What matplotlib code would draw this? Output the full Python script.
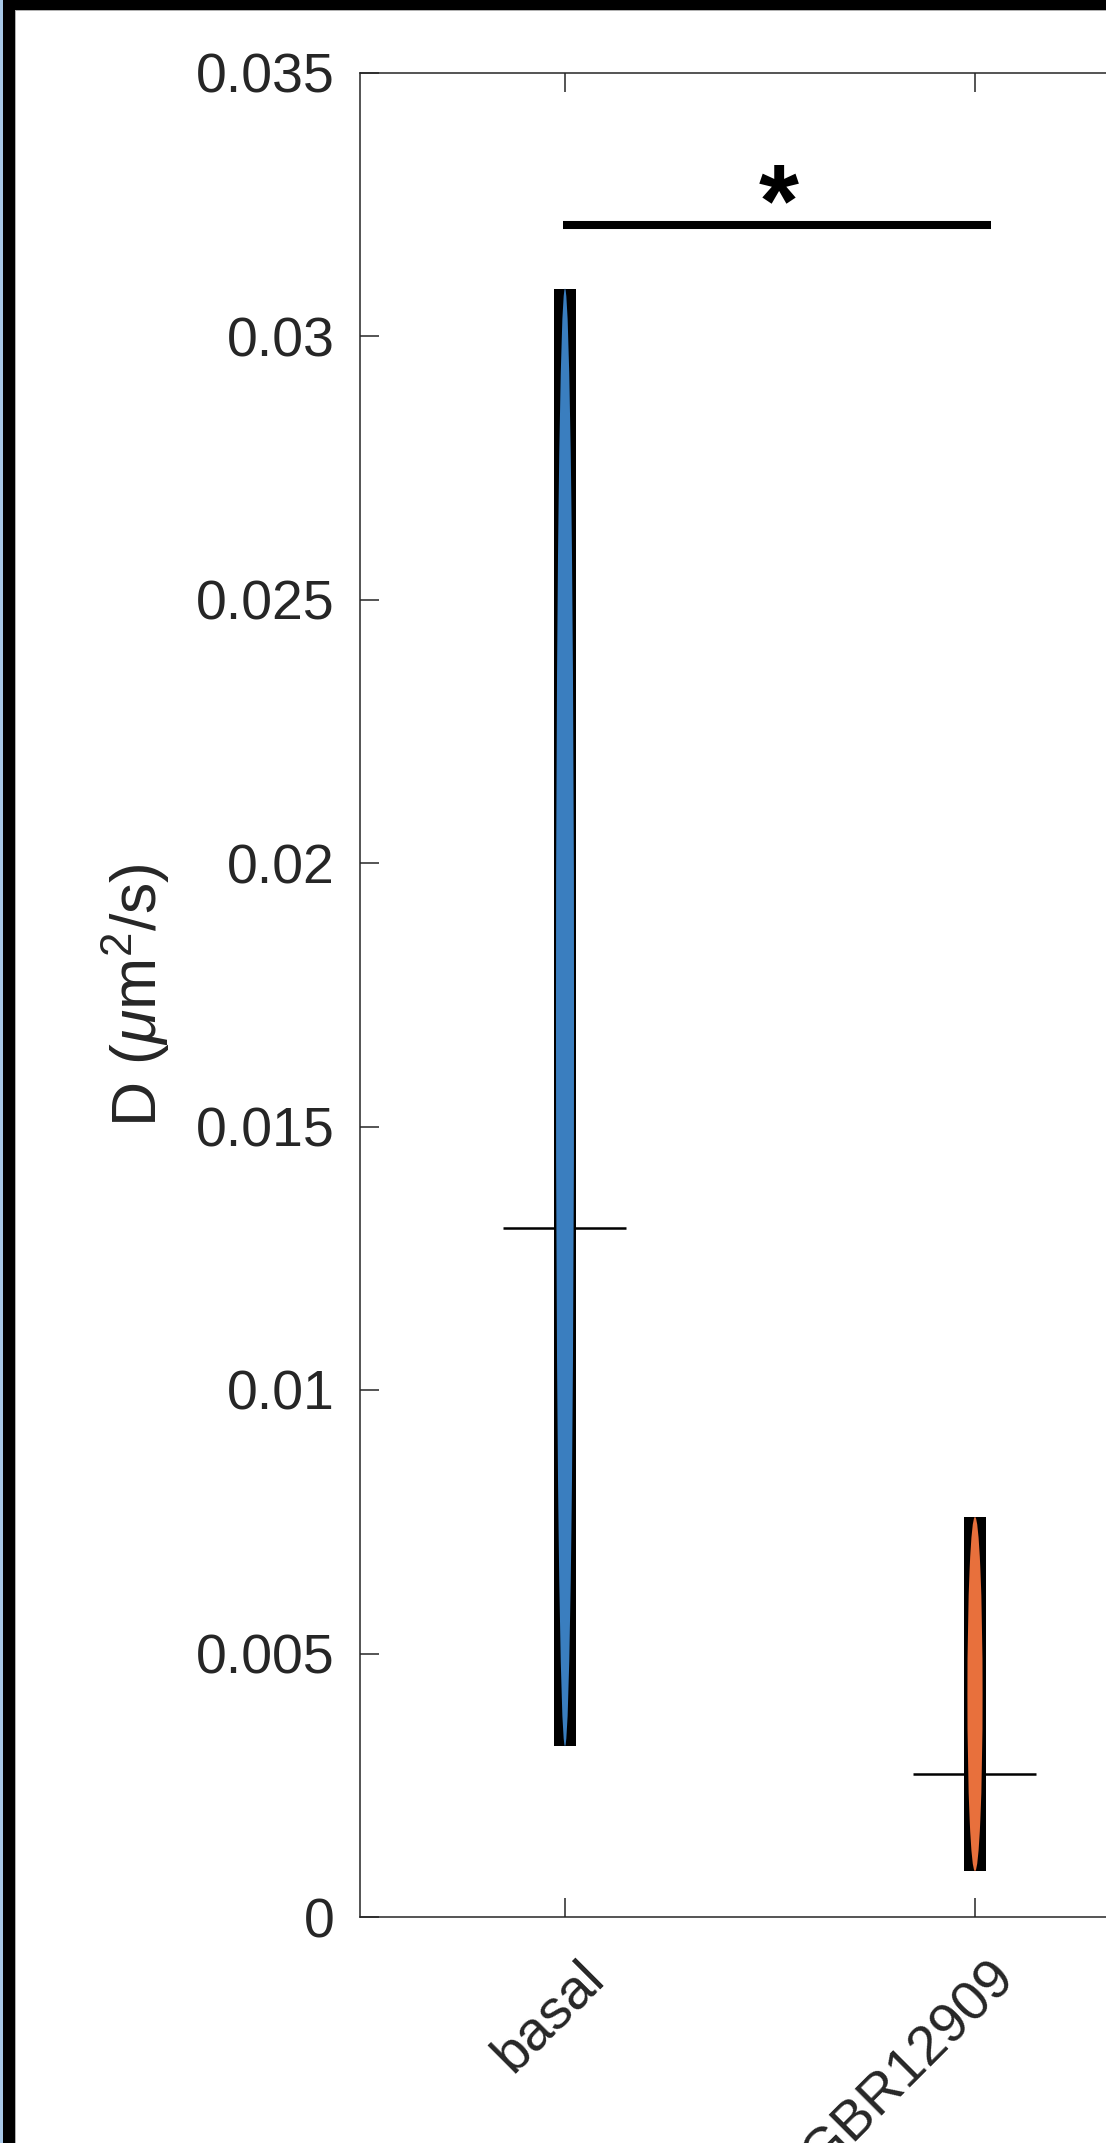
import matplotlib
matplotlib.use('Agg')
import matplotlib.pyplot as plt
from matplotlib.patches import Ellipse, Rectangle
from matplotlib.transforms import ScaledTranslation

# diffusion coefficients per condition (um^2/s)
groups = ['basal', 'CGBR12909']
d_min = [0.00324, 0.00087]
d_max = [0.0309, 0.00759]
d_median = [0.01308, 0.00271]
colours = ['#3a7ebf', '#e8703c']

# significance bracket between basal and CGBR12909
sig_label = '*'
sig_y = 0.0321

yticks = [0, 0.005, 0.01, 0.015, 0.02, 0.025, 0.03, 0.035]
ytick_labels = ['0', '0.005', '0.01', '0.015', '0.02', '0.025', '0.03', '0.035']

plt.rcParams['font.family'] = ['Liberation Sans', 'DejaVu Sans']
plt.rcParams['mathtext.fontset'] = 'custom'
plt.rcParams['mathtext.rm'] = 'Liberation Sans'
plt.rcParams['mathtext.it'] = 'Liberation Sans:italic'

W, H, DPI = 1106, 2143, 100
fig = plt.figure(figsize=(W / DPI, H / DPI), dpi=DPI)

# axes box in pixels; right side runs past the canvas
left, top, bottom, step = 360, 72.5, 1917, 410
ax = fig.add_axes([left / W, (H - bottom) / H, 3 * step / W, (bottom - top) / H])

grey = '#262626'
xs = list(range(1, len(groups) + 1))
box_w = 0.056
violin_w = [0.044, 0.037]
for x, lo, hi, med, c, vw in zip(xs, d_min, d_max, d_median, colours, violin_w):
    ax.bar(x, hi - lo, bottom=lo, width=box_w, color='black', zorder=2)
    ax.add_patch(Ellipse((x, (lo + hi) / 2), vw, hi - lo, facecolor=c,
                         edgecolor='none', zorder=3))
    ax.hlines(med, x - 0.15, x + 0.15, color='black', lw=1.8, zorder=1)

ax.plot([0.995, 2.04], [sig_y, sig_y], color='black', lw=5.8,
        solid_capstyle='butt')
ax.text(1.522, 0.0319, sig_label, ha='center', va='baseline', fontsize=74,
        fontweight='bold')

ax.set_xlim(0.5, 3.5)
ax.set_ylim(0, 0.035)
ax.set_xticks(xs)
ax.set_xticklabels(groups)
ax.set_yticks(yticks)
ax.set_yticklabels(ytick_labels)

ax.tick_params(direction='in', length=13.7, width=1.1, colors=grey,
               labelsize=40, top=True, right=False)
ax.tick_params(axis='y', pad=18)
ax.tick_params(axis='x', pad=38)
for s in ['left', 'top', 'bottom']:
    ax.spines[s].set_color(grey)
    ax.spines[s].set_linewidth(1.1)
ax.spines['right'].set_visible(False)

offset = ScaledTranslation(31 / DPI, 0, fig.dpi_scale_trans)
for lab in ax.get_xticklabels():
    lab.set_rotation(45)
    lab.set_ha('right')
    lab.set_va('center')
    lab.set_rotation_mode('anchor')
    lab.set_transform(lab.get_transform() + offset)

ax.set_ylabel(r'D ($\mu\mathrm{m}^2$/s)', fontsize=45, color=grey)
ax.yaxis.set_label_coords((172 - left) / (3 * step), 0.5)

# window frame along the top and left edges
def px_rect(x0, y0, w, h, c):
    fig.add_artist(Rectangle((x0 / W, 1 - (y0 + h) / H), w / W, h / H,
                             transform=fig.transFigure, facecolor=c,
                             edgecolor='none', zorder=10))

px_rect(0, 0, W, 10, 'black')
px_rect(3, 0, 12, H, 'black')
px_rect(0, 0, 3.3, H, '#a7c7e7')
px_rect(15, 10, 1, H, '#b0b0b0')
px_rect(15, 10, W, 1, '#b0b0b0')

fig.savefig('out.png', dpi=DPI)
